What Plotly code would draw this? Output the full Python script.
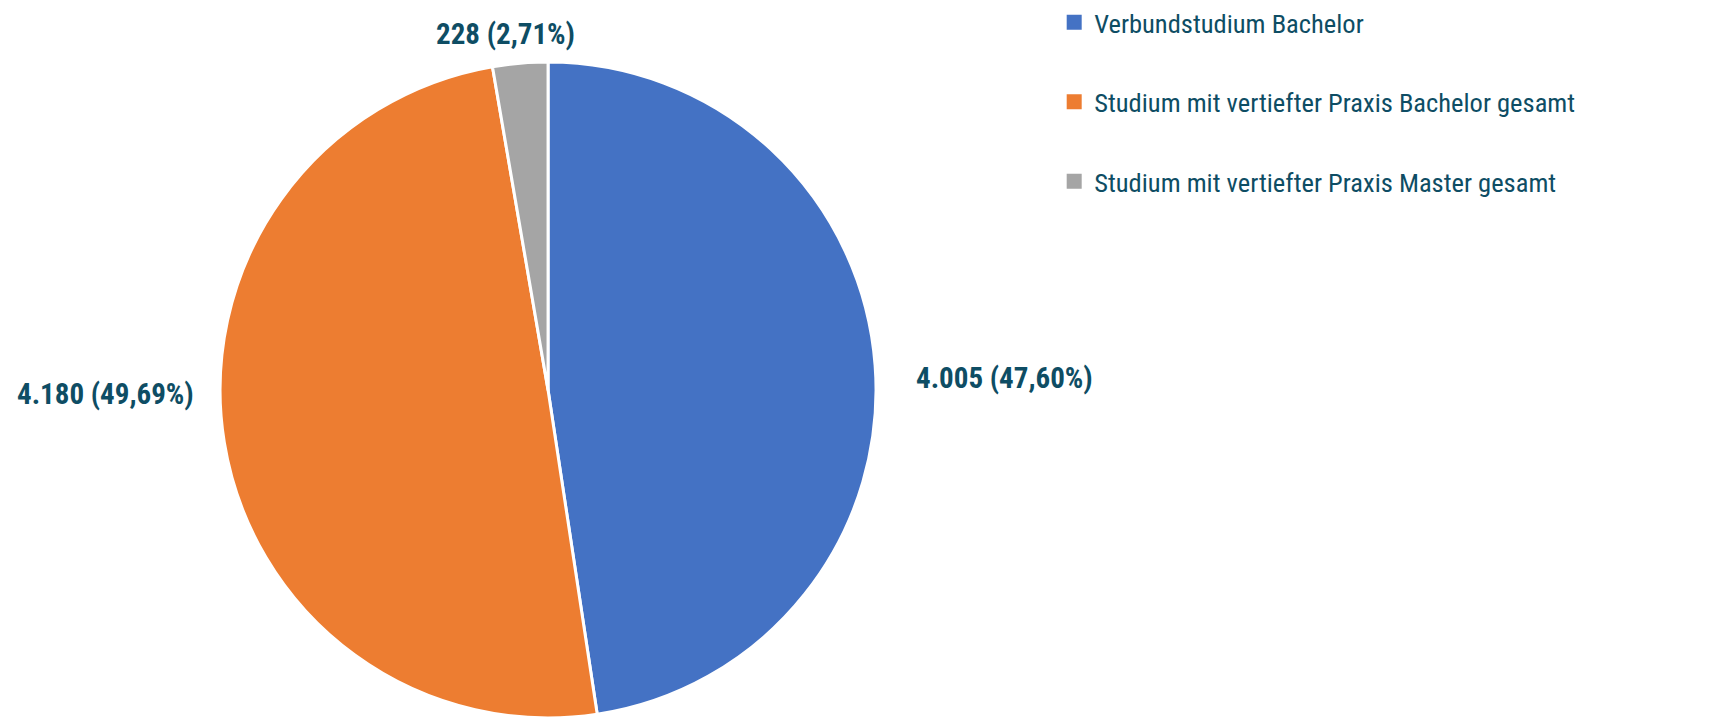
import plotly.graph_objects as go

labels = [
    "Verbundstudium Bachelor",
    "Studium mit vertiefter Praxis Bachelor gesamt",
    "Studium mit vertiefter Praxis Master gesamt",
]
values = [4005, 4180, 228]
colors = ["#4472C4", "#ED7D31", "#A5A5A5"]

# where each data label sits (paper coords)
label_pos = [(0.5793, 0.4868), (0.0569, 0.4646), (0.2888, 0.9646)]

TEXT = "#0E4D64"
FONT = "Roboto Condensed, Liberation Sans Narrow, Liberation Sans, sans-serif"

total = sum(values)


def de_label(v):
    # German style: 4.005 (47,60%)
    pct = f"{v / total * 100:.2f}".replace(".", ",")
    return f"{v:,}".replace(",", ".") + f" ({pct}%)"


fig = go.Figure()

fig.add_trace(
    go.Pie(
        labels=labels,
        values=values,
        sort=False,
        direction="clockwise",
        rotation=0,
        marker=dict(colors=colors, line=dict(color="white", width=3)),
        textinfo="none",
        domain=dict(x=[0.1232, 0.5044], y=[0.0153, 0.9251]),
        showlegend=False,
        hoverinfo="label+value+percent",
    )
)

# legend entries, separate so the rows can be spaced out
for i, (lab, col) in enumerate(zip(labels, colors)):
    fig.add_trace(
        go.Scatter(
            x=[None],
            y=[None],
            mode="markers",
            name=lab,
            legendgroup=f"g{i}",
            marker=dict(symbol="square", size=15, color=col),
        )
    )

for v, (px_, py_) in zip(values, label_pos):
    fig.add_annotation(
        x=px_,
        y=py_,
        xref="paper",
        yref="paper",
        xanchor="center",
        yanchor="middle",
        text=de_label(v),
        showarrow=False,
        font=dict(family=FONT, size=29, color=TEXT, weight="bold"),
    )

fig.update_layout(
    width=1721,
    height=721,
    margin=dict(l=0, r=0, t=0, b=0, autoexpand=False),
    paper_bgcolor="white",
    plot_bgcolor="white",
    xaxis=dict(visible=False),
    yaxis=dict(visible=False),
    legend=dict(
        x=0.6079,
        y=1.013,
        xanchor="left",
        yanchor="top",
        font=dict(family=FONT, size=26.5, color=TEXT),
        tracegroupgap=42,
        bgcolor="rgba(0,0,0,0)",
    ),
)

fig.write_html("out.html")
